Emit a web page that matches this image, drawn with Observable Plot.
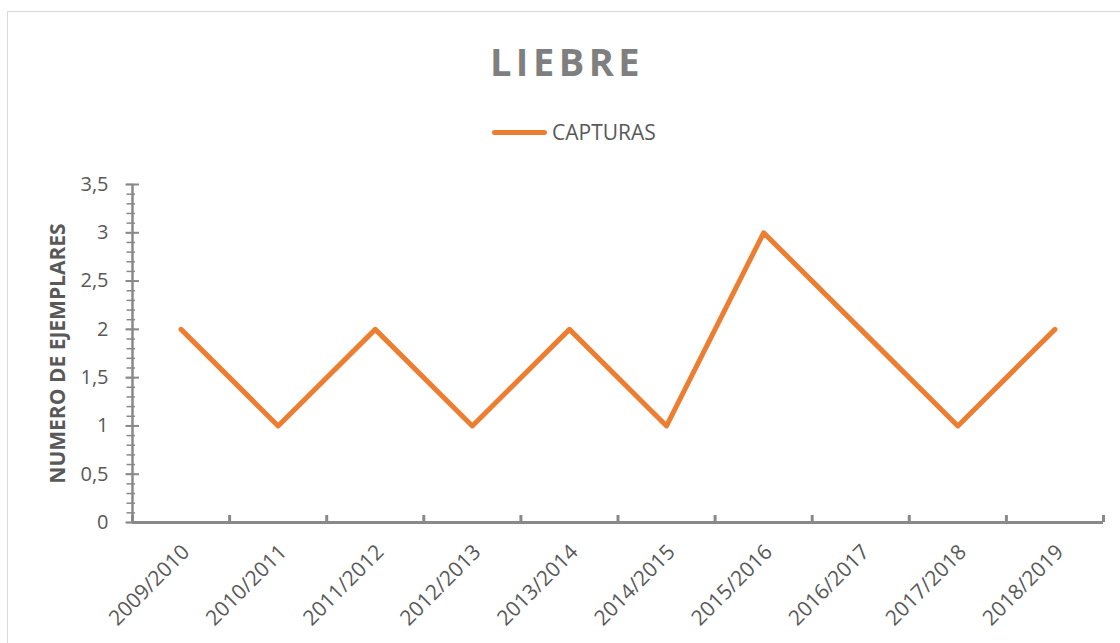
<!DOCTYPE html>
<html>
<head>
<meta charset="utf-8">
<script src="https://cdn.jsdelivr.net/npm/d3@7"></script>
<script src="https://cdn.jsdelivr.net/npm/@observablehq/plot@0.6"></script>
<style>
  html, body { margin: 0; padding: 0; background: #fff; }
  #page { position: relative; width: 1120px; height: 643px; overflow: hidden; font-family: "Open Sans", sans-serif; }
  #frame { position: absolute; left: 7px; top: 11px; width: 1200px; height: 700px; border-top: 1.5px solid #d9d9d9; border-left: 1.5px solid #d9d9d9; box-sizing: border-box; }
  #title { position: absolute; left: 0; top: 42px; width: 1134px; text-align: center; font-size: 38px; font-weight: 700; line-height: 1; letter-spacing: 4.5px; color: #7f7f7f; }
  #legend { position: absolute; left: 492px; top: 121px; height: 22px; display: flex; align-items: center; }
  #legend .sw { width: 55px; height: 5px; border-radius: 3px; background: #ED7D31; margin-right: 5px; }
  #legend .lab { font-size: 21px; line-height: 1; color: #595959; }
  #chart { position: absolute; left: 0; top: 160px; }
</style>
</head>
<body>
<div id="page">
  <div id="frame"></div>
  <div id="title">LIEBRE</div>
  <div id="legend"><div class="sw"></div><div class="lab">CAPTURAS</div></div>
  <div id="chart"></div>
</div>
<script>
const seasons = ["2009/2010", "2010/2011", "2011/2012", "2012/2013", "2013/2014", "2014/2015", "2015/2016", "2016/2017", "2017/2018", "2018/2019"];
const capturas = [2, 1, 2, 1, 2, 1, 3, 2, 1, 2];
const yMajor = [0, 0.5, 1, 1.5, 2, 2.5, 3, 3.5];
const yMinor = d3.ticks(0, 3.5, 35);
const seriesName = "CAPTURAS";
const yLabel = "NUMERO DE EJEMPLARES";

const rows = seasons.map((s, i) => ({season: s, pos: i + 0.5, value: capturas[i]}));
const bounds = d3.range(0, seasons.length + 1);

const axisColor = "#898989";
const textColor = "#595959";

const plot = Plot.plot({
  width: 1120,
  height: 483,
  marginLeft: 132,
  marginRight: 17,
  marginTop: 24,
  marginBottom: 121,
  style: {fontFamily: "'Open Sans', sans-serif", background: "transparent", overflow: "visible"},
  x: {type: "linear", domain: [0, seasons.length], axis: null},
  y: {domain: [0, 3.5], axis: null},
  marks: [
    // y tick labels
    Plot.axisY({ticks: yMajor, tickSize: 0, tickPadding: 24, tickFormat: d => String(d).replace(".", ","), fontSize: 20, color: textColor, label: null}),
    // y minor ticks
    Plot.axisY({ticks: yMinor, tickSize: 8.5, dx: 3, tickFormat: () => "", color: axisColor, strokeWidth: 1.5, label: null}),
    // y major ticks
    Plot.axisY({ticks: yMajor, tickSize: 13.5, dx: 7, tickFormat: () => "", color: axisColor, strokeWidth: 2, label: null}),
    // x ticks at category boundaries (pointing up)
    Plot.axisX({ticks: bounds, tickSize: 7, dy: -7, tickFormat: () => "", color: axisColor, strokeWidth: 3, label: null}),
    Plot.ruleX([0], {stroke: axisColor, strokeWidth: 2.5}),
    Plot.ruleY([0], {stroke: axisColor, strokeWidth: 3}),
    // x tick labels
    Plot.text(rows, {x: "pos", y: () => 0, text: "season", rotate: -45, textAnchor: "end", lineAnchor: "middle", dx: 5, dy: 26, fontSize: 21, fill: textColor}),
    // y axis title
    Plot.text([yLabel], {frameAnchor: "left", text: d => d, rotate: -90, dx: -74, fontSize: 21, fontWeight: 700, fill: textColor, textAnchor: "middle", lineAnchor: "middle"}),
    // series line
    Plot.line(rows, {x: "pos", y: "value", stroke: "#ED7D31", strokeWidth: 5, strokeLinejoin: "round", strokeLinecap: "round"})
  ]
});
document.getElementById("chart").appendChild(plot);
</script>
</body>
</html>
